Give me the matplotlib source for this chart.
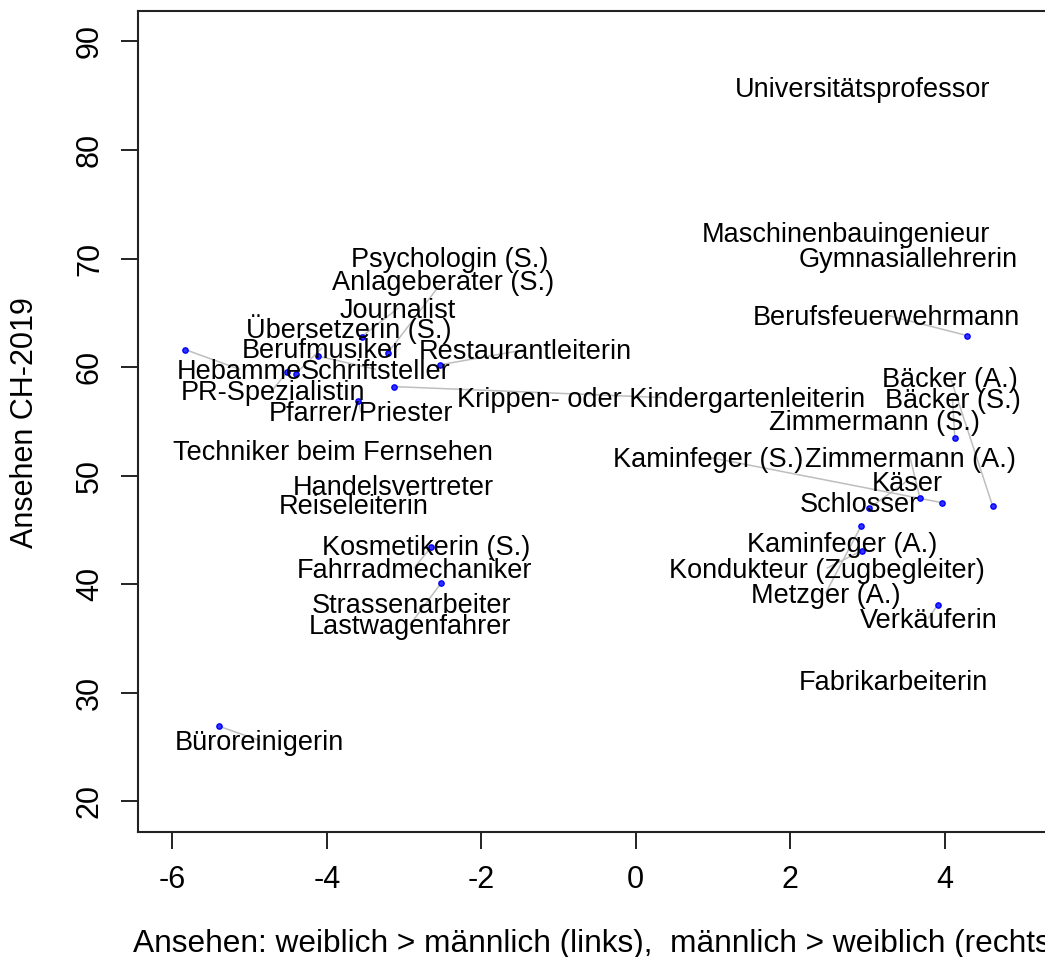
import matplotlib
matplotlib.use("Agg")
import matplotlib.pyplot as plt

plt.rcParams['font.family'] = ['Liberation Sans', 'DejaVu Sans']
plt.rcParams['axes.unicode_minus'] = False

# Occupations
berufe = [
    "Universitätsprofessor", "Maschinenbauingenieur", "Gymnasiallehrerin",
    "Berufsfeuerwehrmann", "Psychologin (S.)", "Anlageberater (S.)",
    "Journalist", "Übersetzerin (S.)", "Berufmusiker", "Restaurantleiterin",
    "Hebamme", "Schriftsteller", "PR-Spezialistin", "Pfarrer/Priester",
    "Krippen- oder Kindergartenleiterin", "Techniker beim Fernsehen",
    "Handelsvertreter", "Reiseleiterin", "Kosmetikerin (S.)",
    "Fahrradmechaniker", "Strassenarbeiter", "Lastwagenfahrer",
    "Büroreinigerin", "Kaminfeger (S.)", "Zimmermann (A.)", "Bäcker (A.)",
    "Bäcker (S.)", "Zimmermann (S.)", "Käser", "Schlosser",
    "Kaminfeger (A.)", "Kondukteur (Zugbegleiter)", "Metzger (A.)",
    "Verkäuferin", "Fabrikarbeiterin",
]

# Difference in prestige: female > male (negative), male > female (positive)
differenz = [
    2.94, 2.72, 3.53,
    4.29, -2.41, -3.21,
    -3.55, -3.72, -4.40, -2.54,
    -5.83, -4.11, -4.52, -3.59,
    -3.13, -3.92,
    -3.14, -3.65, -2.71,
    -2.65, -2.90, -2.52,
    -5.39, 3.97, 3.68, 4.62,
    4.13, 3.09, 3.02, 2.89,
    2.67, 2.93, 2.92,
    3.91, 3.33,
]

# Prestige CH-2019
ansehen = [
    85.8, 72.4, 70.1,
    62.9, 70.1, 61.3,
    62.8, 63.6, 59.4, 60.2,
    61.6, 61.0, 59.5, 56.9,
    58.2, 52.3,
    49.1, 47.4, 43.6,
    43.4, 38.2, 40.1,
    26.9, 47.5, 47.9, 47.2,
    53.5, 55.1, 47.0, 47.5,
    43.9, 43.1, 45.4,
    38.1, 31.1,
]

# Layout positions of the repelled labels (None = label sits on its point)
label_x = [
    None, None, None,
    3.24, None, -2.49,
    -3.08, None, -4.07, -1.43,
    -5.13, -3.37, -4.70, -3.56,
    0.33, None,
    None, None, None,
    -2.87, None, -2.92,
    -4.87, 0.94, 3.55, 4.07,
    4.10, None, 3.51, None,
    None, 2.48, 2.46,
    3.79, None,
]
label_y = [
    None, None, None,
    64.8, None, 68.0,
    65.4, None, 61.7, 61.6,
    59.8, 59.8, 57.9, 55.9,
    57.2, None,
    None, None, None,
    41.5, None, 36.3,
    25.6, 51.7, 51.7, 59.1,
    57.1, None, 49.5, None,
    None, 41.5, 39.2,
    36.9, None,
]

fig = plt.figure(figsize=(10.45, 9.57), dpi=100)
W, H = 1045.0, 957.0
left, right, top, bottom = 138.3, 1056.0, 11.0, 831.7
ax = fig.add_axes([left / W, (H - bottom) / H, (right - left) / W, (bottom - top) / H])
ax.set_xlim(-6.44, 5.44)
ax.set_ylim(17.2, 92.8)

label_fs = 19.5
cap_half_pt = 0.716 * label_fs / 2

for i, name in enumerate(berufe):
    x, y = differenz[i], ansehen[i]
    lx = label_x[i] if label_x[i] is not None else x
    ly = label_y[i] if label_y[i] is not None else y
    if label_x[i] is not None:
        ax.plot([x, lx], [y, ly], color="#BEBEBE", lw=1.1, zorder=1)
        ax.plot([x], [y], marker="o", ms=3.8, mfc="#3030ff", mec="#0000ff",
                mew=1.0, ls="none", zorder=2)
    ax.annotate(name, xy=(lx, ly), xytext=(0, -cap_half_pt),
                textcoords="offset points", ha="center", va="baseline",
                fontsize=label_fs, color="black", zorder=3)

ax.set_xticks([-6, -4, -2, 0, 2, 4])
ax.set_yticks([20, 30, 40, 50, 60, 70, 80, 90])
ax.set_xticklabels(["-6", "-4", "-2", "0", "2", "4"])
ax.set_yticklabels(["20", "30", "40", "50", "60", "70", "80", "90"],
                   rotation=90, va="center")
ax.tick_params(axis="both", length=12, width=1.4, labelsize=22, pad=12,
               direction="out", color="#222222")
for sp in ax.spines.values():
    sp.set_linewidth(1.5)
    sp.set_color("#222222")

fig.text(133 / W, (H - 951.7) / H,
         "Ansehen: weiblich > männlich (links),  männlich > weiblich (rechts)",
         ha="left", va="baseline", fontsize=22.8)
fig.text(33 / W, 1 - 422.5 / H, "Ansehen CH-2019", rotation=90,
         rotation_mode="anchor", ha="center", va="baseline", fontsize=22)

fig.savefig("out.png", dpi=100)
